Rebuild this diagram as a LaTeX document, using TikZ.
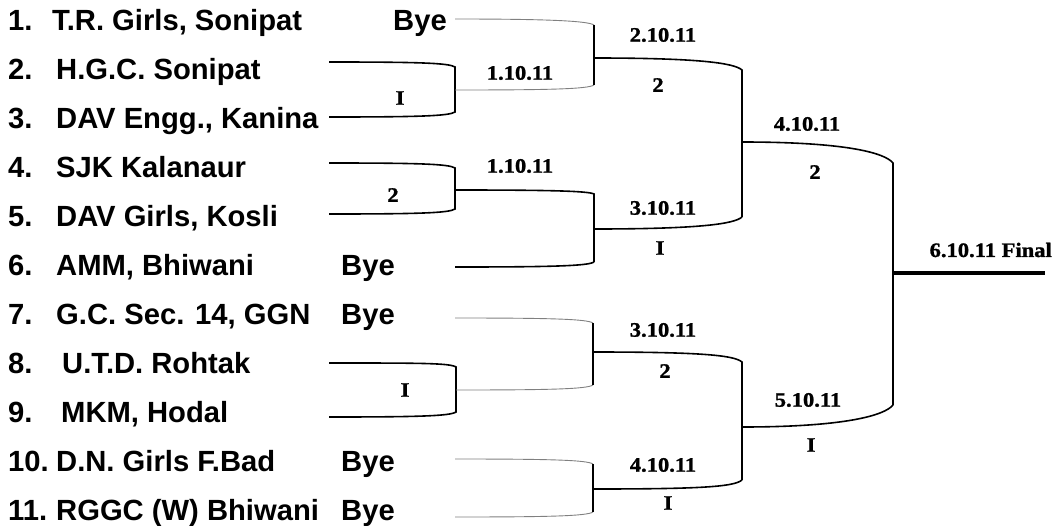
\documentclass[tikz,border=0pt]{standalone}
\usepackage{fontspec}
\setmainfont{Liberation Serif}
\newfontfamily\teamfont{Liberation Sans}
\newfontfamily\datefont[FakeStretch=1.1,FakeBold=1.2]{Liberation Serif}
\begin{document}
\begin{tikzpicture}[x=1pt,y=-1pt]
\tikzstyle{every node}+=[inner sep=0pt]
\tikzstyle{team}=[anchor=base west,font=\teamfont\bfseries\fontsize{29.2}{30}\selectfont]
\tikzstyle{bye}=[anchor=base,font=\teamfont\bfseries\fontsize{29.2}{30}\selectfont]
\tikzstyle{date}=[font=\datefont\bfseries\fontsize{20.5}{22}\selectfont]
\tikzstyle{blackline}=[line width=1.6pt,black]
\tikzstyle{greyline}=[line width=0.9pt,black!50]
\tikzstyle{finalline}=[line width=3.4pt,black]
\useasboundingbox (0,0) rectangle (1055,525);
% teams
\node[team] (n1) at (8,30) {1.};
\node[team] (t1) at (52,30) {T.R. Girls, Sonipat};
\node[bye] (bye1) at (420,30) {Bye};
\node[team] (n2) at (8,79) {2.};
\node[team] (t2) at (56,79) {H.G.C. Sonipat};
\node[team] (n3) at (8,128) {3.};
\node[team] (t3) at (56,128) {DAV Engg., Kanina};
\node[team] (n4) at (8,177) {4.};
\node[team] (t4) at (56,177) {SJK Kalanaur};
\node[team] (n5) at (8,226) {5.};
\node[team] (t5) at (56,226) {DAV Girls, Kosli};
\node[team] (n6) at (8,275) {6.};
\node[team] (t6) at (56,275) {AMM, Bhiwani};
\node[bye] (bye6) at (368,275) {Bye};
\node[team] (n7) at (8,324) {7.};
\node[team] (t7) at (56,324) {G.C. Sec. 14, GGN};
\node[bye] (bye7) at (368,324) {Bye};
\node[team] (n8) at (8,373) {8.};
\node[team] (t8) at (62,373) {U.T.D. Rohtak};
\node[team] (n9) at (8,422) {9.};
\node[team] (t9) at (61,422) {MKM, Hodal};
\node[team] (n10) at (8,471) {10.};
\node[team] (t10) at (56,471) {D.N. Girls F.Bad};
\node[bye] (bye10) at (368,471) {Bye};
\node[team] (n11) at (8,520) {11.};
\node[team] (t11) at (56,520) {RGGC (W) Bhiwani};
\node[bye] (bye11) at (368,520) {Bye};
% bracket ends
\coordinate (a2) at (329,62);
\coordinate (a3) at (329,117);
\coordinate (c2) at (455,67);
\coordinate (c3) at (455,112);
\coordinate (w23) at (455,90);
\coordinate (l1) at (455,19);
\coordinate (b1) at (594,25);
\coordinate (b2) at (594,85);
\coordinate (m1) at (594,58);
\coordinate (a4) at (329,163);
\coordinate (a5) at (329,214);
\coordinate (c4) at (455,168);
\coordinate (c5) at (455,209);
\coordinate (w45) at (455,190);
\coordinate (l6) at (455,267);
\coordinate (d1) at (594,194);
\coordinate (d2) at (594,262);
\coordinate (m2) at (594,229);
\coordinate (e1) at (742,70);
\coordinate (e2) at (742,217);
\coordinate (m3) at (742,142);
\coordinate (f1) at (893,163);
\coordinate (f2) at (893,405);
\coordinate (fo) at (893,273);
\coordinate (fe) at (1045,273);
\coordinate (a8) at (329,363);
\coordinate (a9) at (329,417);
\coordinate (c8) at (456,367);
\coordinate (c9) at (456,412);
\coordinate (w89) at (456,390);
\coordinate (l7) at (455,318);
\coordinate (g1) at (593,323);
\coordinate (g2) at (593,385);
\coordinate (m4) at (593,352);
\coordinate (l10) at (455,459);
\coordinate (l11) at (455,517);
\coordinate (h1) at (593,464);
\coordinate (h2) at (593,512);
\coordinate (m5) at (593,489);
\coordinate (i1) at (742,362);
\coordinate (i2) at (742,480);
\coordinate (m6) at (742,427);
% first round
\draw[blackline] (a2) .. controls +(90,0) and +(-6,-4) .. (c2) -- (c3) .. controls +(-6,4) and +(90,0) .. (a3);
\draw[blackline] (a4) .. controls +(90,0) and +(-6,-4) .. (c4) -- (c5) .. controls +(-6,4) and +(90,0) .. (a5);
\draw[blackline] (a8) .. controls +(90,0) and +(-6,-4) .. (c8) -- (c9) .. controls +(-6,4) and +(90,0) .. (a9);
% second round
\draw[greyline] (l1) .. controls +(95,0) and +(-6,-4) .. (b1);
\draw[greyline] (w23) .. controls +(95,0) and +(-6,4) .. (b2);
\draw[blackline] (b1) -- (b2);
\draw[blackline] (w45) .. controls +(95,0) and +(-6,-3) .. (d1) -- (d2);
\draw[blackline] (l6) .. controls +(95,0) and +(-6,4) .. (d2);
\draw[greyline] (l7) .. controls +(95,0) and +(-6,-4) .. (g1);
\draw[greyline] (w89) .. controls +(95,0) and +(-6,4) .. (g2);
\draw[blackline] (g1) -- (g2);
\draw[greyline] (l10) .. controls +(95,0) and +(-6,-4) .. (h1);
\draw[greyline] (l11) .. controls +(95,0) and +(-6,4) .. (h2);
\draw[blackline] (h1) -- (h2);
% semi finals
\draw[blackline] (m1) .. controls +(105,0) and +(-8,-7) .. (e1) -- (e2);
\draw[blackline] (m2) .. controls +(105,0) and +(-8,7) .. (e2);
\draw[blackline] (m4) .. controls +(105,0) and +(-8,-7) .. (i1) -- (i2);
\draw[blackline] (m5) .. controls +(105,0) and +(-8,7) .. (i2);
% final
\draw[blackline] (m3) .. controls +(105,0) and +(-8,-10) .. (f1) -- (f2);
\draw[blackline] (m6) .. controls +(105,0) and +(-8,10) .. (f2);
\draw[finalline] (fo) -- (fe);
% dates and scores
\node[date] (d23) at (400,98) {I};
\node[date] (d23a) at (520,73) {1.10.11};
\node[date] (d45) at (393,195) {2};
\node[date] (d45a) at (520,166) {1.10.11};
\node[date] (d89) at (405,390) {I};
\node[date] (q1) at (663,35) {2.10.11};
\node[date] (q1s) at (658,85) {2};
\node[date] (q2) at (663,208) {3.10.11};
\node[date] (q2s) at (660,248) {I};
\node[date] (q3) at (663,330) {3.10.11};
\node[date] (q3s) at (665,371) {2};
\node[date] (q4) at (663,465) {4.10.11};
\node[date] (q4s) at (668,503) {I};
\node[date] (s1) at (807,124) {4.10.11};
\node[date] (s1s) at (815,172) {2};
\node[date] (s2) at (808,400) {5.10.11};
\node[date] (s2s) at (811,445) {I};
\node[date,anchor=east] (fin) at (1052,250) {6.10.11 Final};
\end{tikzpicture}
\end{document}
